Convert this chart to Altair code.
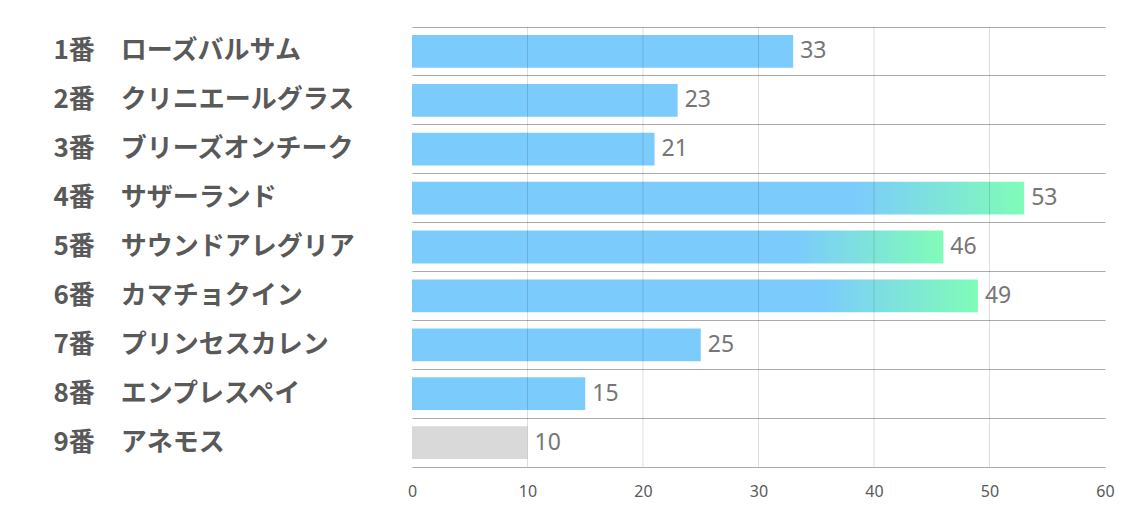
import altair as alt
import pandas as pd

labels = ["1番　ローズバルサム", "2番　クリニエールグラス", "3番　ブリーズオンチーク",
          "4番　サザーランド", "5番　サウンドアレグリア", "6番　カマチョクイン",
          "7番　プリンセスカレン", "8番　エンプレスペイ", "9番　アネモス"]
values = [33, 23, 21, 53, 46, 49, 25, 15, 10]
x_ticks = [0, 10, 20, 30, 40, 50, 60]
grid_ticks = [10, 20, 30, 40, 50]

df = pd.DataFrame({"name": labels, "value": values})

BLUE = "#7bcbfd"
GREEN = "#80fcb8"
GRAY = "#d9d9d9"

W, H = 693, 440

x_scale = alt.Scale(domain=[0, 60], nice=False)
x_axis = alt.Axis(values=x_ticks, grid=False, ticks=False, domain=True,
                  domainColor="#ababab", labelFont="Liberation Sans Narrow, Noto Sans",
                  labelFontSize=16, labelColor="#595959", labelPadding=16, labelFlush=False)

y_enc = alt.Y("name:N", sort=labels, title=None,
              scale=alt.Scale(paddingInner=0, paddingOuter=0),
              axis=alt.Axis(bandPosition=0, grid=True, gridColor="#ababab", gridWidth=1,
                            ticks=False, domain=False, labelAlign="left", labelPadding=359,
                            labelBaseline="middle",
                            labelFont="Noto Sans CJK JP", labelFontWeight="bold",
                            labelFontSize=26, labelColor="#595959", labelLimit=400))
x_enc = alt.X("value:Q", title=None, scale=x_scale, axis=x_axis)

base = alt.Chart(df)

grid = alt.Chart(pd.DataFrame({"v": grid_ticks})).mark_rule(
    color="#000000", opacity=0.13, strokeWidth=1).encode(
    x=alt.X("v:Q", title=None, scale=x_scale, axis=x_axis))

bar_h = alt.RelativeBandSize(0.67)

plain = base.transform_filter("datum.value < 40 && datum.value > 10").mark_bar(
    color=BLUE, height=bar_h).encode(x=x_enc, y=y_enc)

grad = base.transform_filter("datum.value >= 40").mark_bar(
    height=bar_h,
    color=alt.Gradient(gradient="linear", x1=0, x2=1, y1=0, y2=0,
                       stops=[alt.GradientStop(offset=0, color=BLUE),
                              alt.GradientStop(offset=0.72, color=BLUE),
                              alt.GradientStop(offset=1, color=GREEN)])).encode(x=x_enc, y=y_enc)

gray = base.transform_filter("datum.value <= 10").mark_bar(
    color=GRAY, height=bar_h).encode(x=x_enc, y=y_enc)

text = base.mark_text(align="left", baseline="middle", dx=7, fontSize=23,
                      font="Liberation Sans Narrow, Noto Sans", color="#767676").encode(
    x=x_enc, y=y_enc, text=alt.Text("value:Q"))

chart = alt.layer(plain, grad, gray, grid, text).properties(
    width=W, height=H,
    padding={"left": 45, "top": 18, "right": 10, "bottom": 5},
).configure_view(stroke=None)

chart.save("out.html", embed_options={"renderer": "svg", "actions": False})
